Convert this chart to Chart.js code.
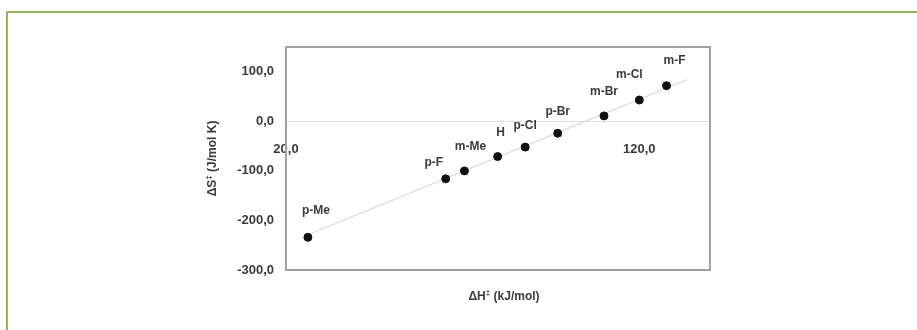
<!DOCTYPE html>
<html lang="en">
<head>
  <meta charset="UTF-8" />
  <title>Activation parameters</title>
  <script src="https://cdn.jsdelivr.net/npm/chart.js"></script>
  <style>
    body {
      margin: 0;
      width: 917px;
      height: 330px;
      background: #fff;
      overflow: hidden;
      position: relative;
    }
    .frame {
      position: absolute;
      left: 6px;
      top: 11px;
      width: 1000px;
      height: 400px;
      border-top: 2px solid #9bb35f;
      border-left: 2px solid #9bb35f;
    }
    #chart {
      position: absolute;
      left: 0;
      top: 0;
    }
  </style>
</head>
<body>
  <div class="frame"></div>
  <canvas id="chart" width="917" height="330"></canvas>

  <script>
    // substituents and activation parameters
    const substituents = ["p-Me", "p-F", "m-Me", "H", "p-Cl", "p-Br", "m-Br", "m-Cl", "m-F"];
    const deltaH = [26.2, 65.2, 70.5, 79.9, 87.7, 96.9, 110.0, 120.0, 127.7];
    const deltaS = [-234, -116, -100, -71, -52, -24, 11, 43, 72];

    // fitted line end points
    const trendH = [27.2, 133.5];
    const trendS = [-226, 84];

    const xTicks = [20, 120];
    const yTicks = [-300, -200, -100, 0, 100];

    // label nudges in px relative to the marker
    const labelNudge = [[8, -27], [-12, -16], [6, -24], [3, -24], [0, -21], [0, -22], [0, -24], [-10, -25], [8, -25]];

    const fmt = v => v.toFixed(1).replace(".", ",");
    const fontFam = "'Liberation Sans', Arial, sans-serif";
    const textCol = "#3a3a3a";

    const extras = {
      id: "extras",
      afterDraw(chart) {
        const { ctx, chartArea: a } = chart;
        ctx.save();
        // plot frame
        ctx.strokeStyle = "#a59f9f";
        ctx.lineWidth = 2;
        ctx.strokeRect(a.left, a.top, a.right - a.left, a.bottom - a.top);

        // point labels
        const meta = chart.getDatasetMeta(1);
        ctx.fillStyle = textCol;
        ctx.font = "bold 12px " + fontFam;
        ctx.textAlign = "center";
        ctx.textBaseline = "middle";
        meta.data.forEach((pt, i) => {
          const [dx, dy] = labelNudge[i];
          ctx.fillText(substituents[i], pt.x + dx, pt.y + dy);
        });

        // x title
        const cx = (a.left + a.right) / 2 + 6;
        drawTitle(ctx, cx, 297, "ΔH", " (kJ/mol)");

        // y title (rotated)
        ctx.translate(213, (a.top + a.bottom) / 2);
        ctx.rotate(-Math.PI / 2);
        drawTitle(ctx, 0, 0, "ΔS", " (J/mol K)");
        ctx.restore();
      }
    };

    function drawTitle(ctx, cx, cy, head, tail) {
      ctx.font = "bold 12px " + fontFam;
      const wHead = ctx.measureText(head).width;
      const wTail = ctx.measureText(tail).width;
      ctx.font = "bold 8px " + fontFam;
      const wSup = ctx.measureText("‡").width;
      let x = cx - (wHead + wSup + wTail) / 2;
      ctx.textAlign = "left";
      ctx.textBaseline = "middle";
      ctx.fillStyle = textCol;
      ctx.font = "bold 12px " + fontFam;
      ctx.fillText(head, x, cy);
      x += wHead;
      ctx.font = "bold 8px " + fontFam;
      ctx.fillText("‡", x, cy - 4);
      x += wSup;
      ctx.font = "bold 12px " + fontFam;
      ctx.fillText(tail, x, cy);
    }

    const chart = new Chart(document.getElementById("chart"), {
      type: "scatter",
      data: {
        datasets: [
          {
            label: "fit",
            type: "line",
            data: trendH.map((h, i) => ({ x: h, y: trendS[i] })),
            borderColor: "#e4dede",
            borderWidth: 1.5,
            pointRadius: 0,
            order: 2
          },
          {
            label: "substituents",
            data: deltaH.map((h, i) => ({ x: h, y: deltaS[i] })),
            backgroundColor: "#111",
            borderColor: "#111",
            pointRadius: 4,
            order: 1
          }
        ]
      },
      options: {
        responsive: false,
        animation: false,
        layout: { padding: { left: 226, right: 207, top: 47, bottom: 60 } },
        plugins: {
          legend: { display: false },
          tooltip: { enabled: false }
        },
        scales: {
          x: {
            type: "linear",
            position: { y: 0 },
            min: 20,
            max: 140,
            afterBuildTicks: s => { s.ticks = xTicks.map(v => ({ value: v })); },
            grid: { display: false, drawTicks: false },
            border: { color: "#dcdcdc", width: 1 },
            ticks: {
              padding: 20,
              color: textCol,
              font: { family: fontFam, size: 13, weight: "bold" },
              callback: v => fmt(v)
            }
          },
          y: {
            min: -300,
            max: 150,
            afterBuildTicks: s => { s.ticks = yTicks.map(v => ({ value: v })); },
            afterFit: s => { s.width = 60; },
            grid: { display: false, drawTicks: false },
            border: { display: false },
            ticks: {
              padding: 12,
              color: textCol,
              font: { family: fontFam, size: 13, weight: "bold" },
              callback: v => fmt(v)
            }
          }
        }
      },
      plugins: [extras]
    });
  </script>
</body>
</html>
